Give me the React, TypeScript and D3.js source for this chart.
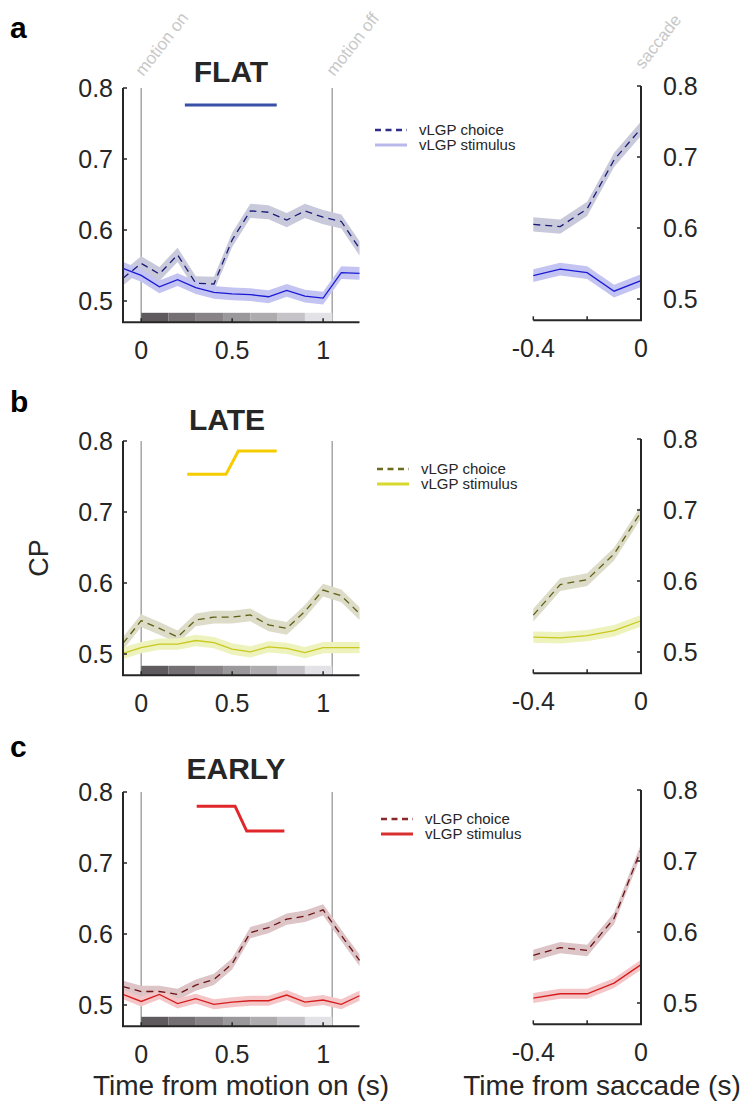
import React from "react";
import * as d3 from "d3";

// time bins (s)
const tMotion = [-0.1, 0, 0.1, 0.2, 0.3, 0.4, 0.5, 0.6, 0.7, 0.8, 0.9, 1.0, 1.1, 1.2];
const tSaccade = [-0.4, -0.3, -0.2, -0.1, 0];

// CP values
const flatChoiceMotion = [0.532, 0.553, 0.538, 0.565, 0.525, 0.524, 0.586, 0.627, 0.625, 0.614, 0.627, 0.618, 0.612, 0.574];
const flatStimMotion = [0.546, 0.536, 0.52, 0.53, 0.519, 0.512, 0.51, 0.509, 0.506, 0.515, 0.507, 0.504, 0.54, 0.539];
const flatChoiceSacc = [0.605, 0.602, 0.627, 0.696, 0.74];
const flatStimSacc = [0.533, 0.542, 0.537, 0.511, 0.526];

const lateChoiceMotion = [0.515, 0.547, 0.536, 0.524, 0.548, 0.552, 0.552, 0.555, 0.541, 0.536, 0.56, 0.59, 0.582, 0.557];
const lateStimMotion = [0.501, 0.509, 0.514, 0.514, 0.519, 0.516, 0.507, 0.503, 0.51, 0.508, 0.502, 0.509, 0.509, 0.509];
const lateChoiceSacc = [0.552, 0.595, 0.602, 0.638, 0.697];
const lateStimSacc = [0.521, 0.52, 0.523, 0.53, 0.544];

const earlyChoiceMotion = [0.526, 0.519, 0.519, 0.515, 0.528, 0.536, 0.558, 0.602, 0.609, 0.621, 0.625, 0.634, 0.598, 0.563];
const earlyStimMotion = [0.515, 0.505, 0.515, 0.502, 0.509, 0.501, 0.504, 0.506, 0.506, 0.514, 0.504, 0.507, 0.501, 0.513];
const earlyChoiceSacc = [0.567, 0.578, 0.574, 0.619, 0.716];
const earlyStimSacc = [0.507, 0.513, 0.513, 0.528, 0.554];

// approx. half-width of the shaded error bands
const semChoice = [0.01, 0.009, 0.008];
const semStim = [0.009, 0.008, 0.007];

// stimulus strength profiles drawn under the titles, [t, CP] pairs
const flatProfile = [[0.24, 0.776], [0.745, 0.776]];
const lateProfile = [[0.253, 0.753], [0.466, 0.753], [0.534, 0.786], [0.745, 0.786]];
const earlyProfile = [[0.305, 0.78], [0.516, 0.78], [0.58, 0.745], [0.787, 0.745]];

// pulse bins shown at the bottom of the motion axes
const pulseEdges = [0, 0.15, 0.3, 0.45, 0.6, 0.75, 0.9, 1.05];
const pulseShades = ["#5f5a5e", "#736f73", "#878387", "#9b989c", "#afacb0", "#c5c3c7", "#e3e2e6"];

const yTicks = [0.5, 0.6, 0.7, 0.8];
const motionTicks = [0, 0.5, 1];
const saccTicks = [-0.4, -0.2, 0];
const saccTickLabels = [-0.4, 0];

const FONT = "'Liberation Sans', Arial, Helvetica, sans-serif";
const INK = "#262626";

const panels = [
  {
    letter: "a", title: "FLAT", top: 88, titleX: 231, titleY: 82, legX: 375, legY: 130,
    choiceM: flatChoiceMotion, stimM: flatStimMotion, choiceS: flatChoiceSacc, stimS: flatStimSacc,
    profile: flatProfile, profileColor: "#3a4fa8",
    choiceLine: "#1c1c78", choiceBand: "#c9c9dc", stimLine: "#1a1ad6", stimBand: "#c4c4f2",
    legChoice: "#2e2e8a", legStim: "#b8b8ea", events: true,
  },
  {
    letter: "b", title: "LATE", top: 441, titleX: 227, titleY: 430, legX: 377, legY: 469,
    choiceM: lateChoiceMotion, stimM: lateStimMotion, choiceS: lateChoiceSacc, stimS: lateStimSacc,
    profile: lateProfile, profileColor: "#f5cc00",
    choiceLine: "#5f5f14", choiceBand: "#dcdcc8", stimLine: "#c8c81e", stimBand: "#eef2bc",
    legChoice: "#6b6b1f", legStim: "#d8d82e", events: false,
  },
  {
    letter: "c", title: "EARLY", top: 792, titleX: 236, titleY: 779, legX: 381, legY: 819,
    choiceM: earlyChoiceMotion, stimM: earlyStimMotion, choiceS: earlyChoiceSacc, stimS: earlyStimSacc,
    profile: earlyProfile, profileColor: "#e0262b",
    choiceLine: "#6b1212", choiceBand: "#dcc4c7", stimLine: "#d61c1c", stimBand: "#f4c6c8",
    legChoice: "#8b2828", legStim: "#d83030", events: false,
  },
];

function Band({ t, v, sem, x, y, fill }) {
  const area = d3
    .area()
    .x((d, i) => x(t[i]))
    .y0((d) => y(d - sem))
    .y1((d) => y(d + sem));
  return <path d={area(v)} fill={fill} stroke="none" />;
}

function Trace({ t, v, x, y, stroke, dashed }) {
  const line = d3
    .line()
    .x((d, i) => x(t[i]))
    .y((d) => y(d));
  return (
    <path
      d={line(v)}
      fill="none"
      stroke={stroke}
      strokeWidth={1.3}
      strokeDasharray={dashed ? "7,5" : undefined}
    />
  );
}

function Panel({ p, idx }) {
  const xM = d3.scaleLinear().domain([-0.1, 1.2]).range([123, 359.5]);
  const xS = d3.scaleLinear().domain([-0.4, 0]).range([533.3, 641]);
  const yM = d3.scaleLinear().domain([0.47, 0.8]).range([p.top + 234.3, p.top]);
  const yS = d3.scaleLinear().domain([0.47, 0.8]).range([p.top + 232.3, p.top - 2]);
  const bottomM = yM(0.47);
  const bottomS = yS(0.47);
  const prof = d3.line().x((d) => xM(d[0])).y((d) => yM(d[1]));

  return (
    <g>
      <text x={10} y={p.top - (idx === 0 ? 50 : idx === 1 ? 29 : 35)} fontFamily={FONT} fontWeight="bold" fontSize={30} fill="#000">
        {p.letter}
      </text>
      <text x={p.titleX} y={p.titleY} textAnchor="middle" fontFamily={FONT} fontWeight="bold" fontSize={30} fill={INK}>
        {p.title}
      </text>
      <path d={prof(p.profile)} fill="none" stroke={p.profileColor} strokeWidth={3} />

      {/* motion on / off markers */}
      {[0, 1.05].map((t) => (
        <line key={t} x1={xM(t)} x2={xM(t)} y1={p.top} y2={bottomM} stroke="#a6a6a6" strokeWidth={1.5} />
      ))}

      {/* motion-aligned */}
      <Band t={tMotion} v={p.choiceM} sem={semChoice[idx]} x={xM} y={yM} fill={p.choiceBand} />
      <Band t={tMotion} v={p.stimM} sem={semStim[idx]} x={xM} y={yM} fill={p.stimBand} />
      <Trace t={tMotion} v={p.stimM} x={xM} y={yM} stroke={p.stimLine} />
      <Trace t={tMotion} v={p.choiceM} x={xM} y={yM} stroke={p.choiceLine} dashed />

      {pulseShades.map((c, i) => (
        <rect
          key={i}
          x={xM(pulseEdges[i])}
          width={xM(pulseEdges[i + 1]) - xM(pulseEdges[i])}
          y={bottomM - 9.5}
          height={9.5}
          fill={c}
        />
      ))}

      {/* motion axes */}
      <line x1={123} x2={123} y1={p.top} y2={bottomM} stroke={INK} strokeWidth={2} />
      <line x1={122} x2={xM(1.2)} y1={bottomM} y2={bottomM} stroke={INK} strokeWidth={2} />
      {yTicks.map((v) => (
        <g key={v}>
          <line x1={123} x2={127} y1={yM(v)} y2={yM(v)} stroke={INK} strokeWidth={1.5} />
          <text x={113} y={yM(v)} dy="0.36em" textAnchor="end" fontFamily={FONT} fontSize={25} fill={INK}>
            {v.toFixed(1)}
          </text>
        </g>
      ))}
      {motionTicks.map((t) => (
        <g key={t}>
          <line x1={xM(t)} x2={xM(t)} y1={bottomM} y2={bottomM - 4} stroke={INK} strokeWidth={1.5} />
          <text x={xM(t)} y={bottomM + 37} textAnchor="middle" fontFamily={FONT} fontSize={25} fill={INK}>
            {String(t)}
          </text>
        </g>
      ))}

      {/* saccade-aligned */}
      <Band t={tSaccade} v={p.choiceS} sem={semChoice[idx]} x={xS} y={yS} fill={p.choiceBand} />
      <Band t={tSaccade} v={p.stimS} sem={semStim[idx]} x={xS} y={yS} fill={p.stimBand} />
      <Trace t={tSaccade} v={p.stimS} x={xS} y={yS} stroke={p.stimLine} />
      <Trace t={tSaccade} v={p.choiceS} x={xS} y={yS} stroke={p.choiceLine} dashed />

      <line x1={641} x2={641} y1={yS(0.8)} y2={bottomS} stroke={INK} strokeWidth={2} />
      <line x1={xS(-0.4)} x2={642} y1={bottomS} y2={bottomS} stroke={INK} strokeWidth={2} />
      {yTicks.map((v) => (
        <g key={v}>
          <line x1={641} x2={637} y1={yS(v)} y2={yS(v)} stroke={INK} strokeWidth={1.5} />
          <text x={663} y={yS(v)} dy="0.36em" textAnchor="start" fontFamily={FONT} fontSize={25} fill={INK}>
            {v.toFixed(1)}
          </text>
        </g>
      ))}
      {saccTicks.map((t) => (
        <line key={t} x1={xS(t)} x2={xS(t)} y1={bottomS} y2={bottomS - 4} stroke={INK} strokeWidth={1.5} />
      ))}
      {saccTickLabels.map((t) => (
        <text key={t} x={xS(t)} y={bottomS + 37} textAnchor="middle" fontFamily={FONT} fontSize={25} fill={INK}>
          {String(t)}
        </text>
      ))}

      {/* legend */}
      <line x1={p.legX} x2={p.legX + 32} y1={p.legY} y2={p.legY} stroke={p.legChoice} strokeWidth={2.5} strokeDasharray="6,4.5" />
      <line x1={p.legX} x2={p.legX + 32} y1={p.legY + 15} y2={p.legY + 15} stroke={p.legStim} strokeWidth={3} />
      <text x={p.legX + 44} y={p.legY} dy="0.35em" fontFamily={FONT} fontSize={15} fill={INK}>
        vLGP choice
      </text>
      <text x={p.legX + 44} y={p.legY + 15} dy="0.35em" fontFamily={FONT} fontSize={15} fill={INK}>
        vLGP stimulus
      </text>

      {p.events && (
        <g fontFamily={FONT} fontSize={17} fill="#c8c8c8">
          <text transform={`translate(${xM(0) + 2},${p.top - 11}) rotate(-52)`}>motion on</text>
          <text transform={`translate(${xM(1.05) + 2},${p.top - 11}) rotate(-52)`}>motion off</text>
          <text transform={`translate(${xS(0) + 2},${p.top - 18}) rotate(-52)`}>saccade</text>
        </g>
      )}
    </g>
  );
}

export default function App() {
  return (
    <div style={{ position: "absolute", left: 0, top: 0 }}>
      <svg width={745} height={1105} style={{ display: "block", background: "#fff" }}>
        {panels.map((p, i) => (
          <Panel key={p.letter} p={p} idx={i} />
        ))}
        <text transform="translate(48,558) rotate(-90)" textAnchor="middle" fontFamily={FONT} fontSize={27} fill={INK}>
          CP
        </text>
        <text x={241} y={1095} textAnchor="middle" fontFamily={FONT} fontSize={28} fill={INK}>
          Time from motion on (s)
        </text>
        <text x={602} y={1095} textAnchor="middle" fontFamily={FONT} fontSize={28} fill={INK}>
          Time from saccade (s)
        </text>
      </svg>
    </div>
  );
}
